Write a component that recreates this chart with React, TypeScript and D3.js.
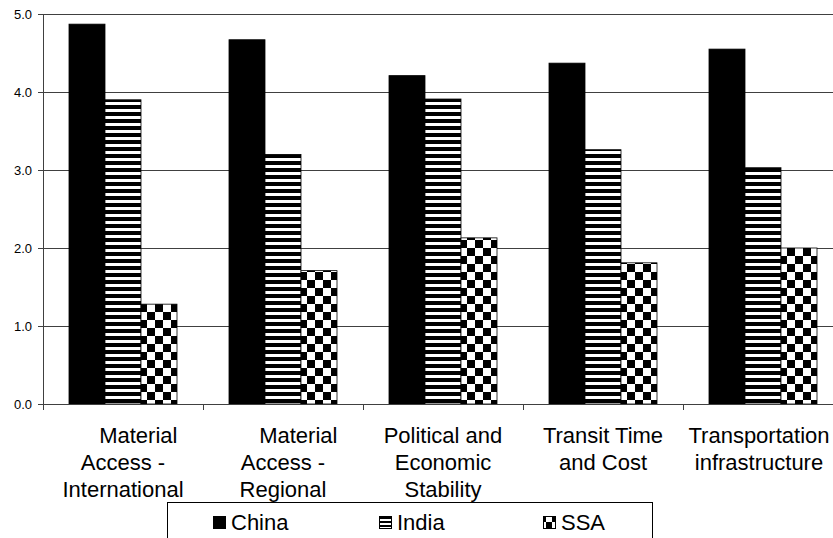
import React from "react";
import * as d3 from "d3";

const nb = "\u00A0";
const categoryLines: string[][] = [
  [nb.repeat(5) + "Material", "Access -", "International"],
  [nb.repeat(5) + "Material", "Access -", "Regional"],
  ["Political and", "Economic", "Stability"],
  ["Transit Time", "and Cost"],
  ["Transportation", "infrastructure"],
];
const seriesNames = ["China", "India", "SSA"];
const china = [4.87, 4.67, 4.21, 4.37, 4.55];
const india = [3.9, 3.2, 3.91, 3.26, 3.03];
const ssa = [1.28, 1.71, 2.13, 1.81, 2.0];
const yTicks = [0, 1, 2, 3, 4, 5];

const W = 833;
const H = 538;
const font = "'Liberation Sans', Arial, Helvetica, sans-serif";

export default function App() {
  const series = [china, india, ssa];
  const fills = ["#000", "url(#hstripe)", "url(#checker)"];
  const left = 43;
  const right = 843;
  const top = 14;
  const bottom = 404;
  const idx = categoryLines.map((_, i) => String(i));
  const x0 = d3.scaleBand().domain(idx).range([left, right]).paddingInner(0).paddingOuter(0);
  const groupPad = 26;
  const x1 = d3
    .scaleBand()
    .domain(seriesNames)
    .range([groupPad, x0.bandwidth() - groupPad]);
  const y = d3.scaleLinear().domain([0, 5]).range([bottom, top]);
  const gridColor = "#404040";
  const legendX = 167;
  const legendW = 485;
  const legendY = 502.5;
  const legendItemX = [213, 379, 543];

  return (
    <svg
      width={W}
      height={H}
      style={{ position: "absolute", left: 0, top: 0, background: "#fff" }}
    >
      <defs>
        <pattern id="hstripe" patternUnits="userSpaceOnUse" width={8} height={7}>
          <rect width={8} height={7} fill="#fff" />
          <rect width={8} height={4} fill="#000" />
        </pattern>
        <pattern id="checker" patternUnits="userSpaceOnUse" width={16} height={16}>
          <rect width={16} height={16} fill="#fff" />
          <rect width={8} height={8} fill="#000" />
          <rect x={8} y={8} width={8} height={8} fill="#000" />
        </pattern>
        <pattern id="hstripeSmall" patternUnits="userSpaceOnUse" width={4} height={4} y={1}>
          <rect width={4} height={4} fill="#fff" />
          <rect width={4} height={2} fill="#000" />
        </pattern>
        <pattern id="checkerSmall" patternUnits="userSpaceOnUse" width={12} height={12} x={0} y={0}>
          <rect width={12} height={12} fill="#fff" />
          <rect width={6} height={6} fill="#000" />
          <rect x={6} y={6} width={6} height={6} fill="#000" />
        </pattern>
      </defs>
      <rect x={0} y={0} width={W} height={H} fill="#fff" />

      {/* gridlines */}
      {yTicks.slice(1).map((t) => (
        <line
          key={"g" + t}
          x1={left}
          x2={right}
          y1={Math.round(y(t)) + 0.5}
          y2={Math.round(y(t)) + 0.5}
          stroke={gridColor}
          strokeWidth={1}
        />
      ))}

      {/* bars */}
      {idx.map((c, ci) => (
        <g key={"grp" + c} transform={`translate(${x0(c)},0)`}>
          {seriesNames.map((s, si) => {
            const v = series[si][ci];
            const yy = y(v);
            return (
              <rect
                key={s}
                x={x1(s)}
                y={yy}
                width={x1.bandwidth()}
                height={bottom - yy}
                fill={fills[si]}
                stroke="#000"
                strokeWidth={0.8}
              />
            );
          })}
        </g>
      ))}

      {/* y axis */}
      <line x1={left + 0.5} x2={left + 0.5} y1={top} y2={bottom} stroke={gridColor} />
      {yTicks.map((t) => (
        <g key={"yt" + t}>
          <line
            x1={left - 5}
            x2={left}
            y1={Math.round(y(t)) + 0.5}
            y2={Math.round(y(t)) + 0.5}
            stroke={gridColor}
          />
          <text
            x={left - 11}
            y={y(t)}
            dy="0.35em"
            textAnchor="end"
            fontFamily={font}
            fontSize={13}
            fill="#000"
          >
            {d3.format(".1f")(t)}
          </text>
        </g>
      ))}

      {/* x axis */}
      <line x1={left} x2={right} y1={bottom + 0.5} y2={bottom + 0.5} stroke={gridColor} />
      {idx.map((c) => (
        <line
          key={"xt" + c}
          x1={Math.round(x0(c)!) + 0.5}
          x2={Math.round(x0(c)!) + 0.5}
          y1={bottom}
          y2={bottom + 6}
          stroke={gridColor}
        />
      ))}

      {/* category labels */}
      {categoryLines.map((lines, ci) => {
        const cx = Math.min(x0(String(ci))! + x0.bandwidth() / 2, 759);
        return (
          <text
            key={"cl" + ci}
            textAnchor="middle"
            fontFamily={font}
            fontSize={22}
            fill="#000"
            style={{ whiteSpace: "pre" }}
          >
            {lines.map((ln, li) => (
              <tspan key={li} x={cx} y={443 + li * 27}>
                {ln}
              </tspan>
            ))}
          </text>
        );
      })}

      {/* legend */}
      <rect
        x={legendX + 0.5}
        y={legendY}
        width={legendW}
        height={60}
        fill="#fff"
        stroke="#000"
        strokeWidth={1}
      />
      {seriesNames.map((s, si) => {
        const lx = legendItemX[si];
        const iconFill = si === 0 ? "#000" : si === 1 ? "url(#hstripeSmall)" : "url(#checkerSmall)";
        return (
          <g key={"lg" + s}>
            <rect
              x={lx + 0.5}
              y={516.5}
              width={12}
              height={12}
              fill={iconFill}
              stroke="#000"
              strokeWidth={1}
            />
            <text x={lx + 18} y={530} fontFamily={font} fontSize={22} fill="#000">
              {s}
            </text>
          </g>
        );
      })}
    </svg>
  );
}
